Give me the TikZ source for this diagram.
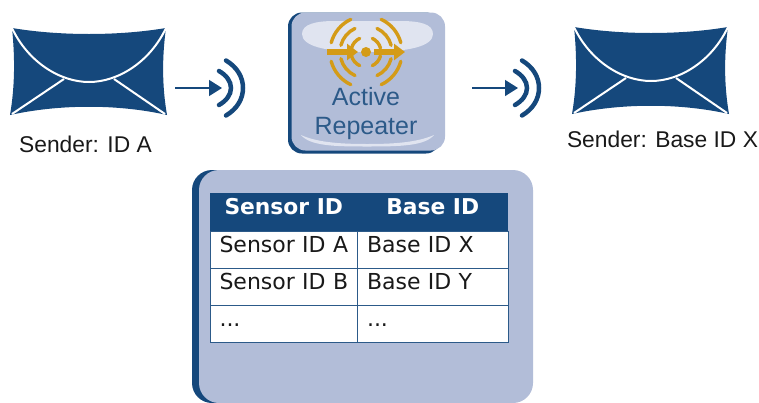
\documentclass[tikz,border=0pt]{standalone}
\usepackage{fontspec}
\setmainfont{Liberation Sans}
\newfontfamily\tablefont{DejaVu Sans}
\definecolor{mynavy}{RGB}{21,72,124}
\definecolor{mypanel}{RGB}{178,189,216}
\definecolor{myglow}{RGB}{224,228,240}
\definecolor{mygold}{RGB}{212,155,23}
\usetikzlibrary{positioning,arrows.meta}

\begin{document}
\begin{tikzpicture}[
  x=1pt,
  y=-1pt,
  caption/.style={text=black!90, font=\fontsize{22.8}{27}\selectfont, inner sep=0pt},
  repeatertext/.style={text=mynavy!90!white, font=\fontsize{25}{30}\selectfont, inner sep=0pt},
  sigarrow/.style={draw=mynavy, line width=1.5pt, -{Triangle[length=13pt,width=16pt]}},
  sigwave/.style={draw=mynavy, line width=4.5pt, line cap=round},
  goldarc/.style={draw=mygold, line width=3.4pt, line cap=round},
  goldarrow/.style={draw=mygold, line width=5.5pt, -{Triangle[length=11pt,width=16pt]}},
  headcell/.style={
    fill=mynavy,
    text=white,
    minimum width=#1,
    minimum height=38pt,
    text height=15pt,
    text depth=11pt,
    inner sep=0pt,
    outer sep=0pt,
    font=\tablefont\bfseries\fontsize{21.8}{26}\selectfont
    },
  bodycell/.style={
    draw=mynavy!90!white,
    fill=white,
    line width=0.9pt,
    text=black!90,
    text width=#1-12pt,
    minimum height=37pt,
    text height=14pt,
    text depth=9pt,
    inner xsep=6pt,
    inner ysep=0pt,
    outer sep=0pt,
    align=left,
    execute at begin node={\hspace*{3.5pt}},
    font=\tablefont\fontsize{22}{26}\selectfont
    },
  envelope/.pic={
    \fill[mynavy] (12,28) .. controls (60,36) and (118,36) .. (166,28)
      .. controls (162,57) and (162,86) .. (167,115)
      .. controls (118,104) and (60,104) .. (10,115)
      .. controls (15,86) and (15,57) .. (12,28) -- cycle;
    \draw[white, line width=2pt] (12,28) .. controls (28,62) and (60,82) .. (89,82)
      .. controls (118,82) and (150,62) .. (166,28);
    \draw[white, line width=2pt] (64,79) -- (12,114);
    \draw[white, line width=2pt] (114,79) -- (165,114);
  },
  wave/.pic={
    \draw[sigwave] (-3,-17) .. controls (4,-13) and (9,-7) .. (9,0)
      .. controls (9,7) and (4,13) .. (-3,17);
    \draw[sigwave] (4,-27.5) .. controls (15,-21) and (21,-11) .. (21,0)
      .. controls (21,11) and (15,21) .. (4,27.5);
  }
]
\useasboundingbox (0,0) rectangle (759,402);

% senders
\pic at (0,0) {envelope};
\pic at (562,-1) {envelope};
\node[caption] (senderA) at (85.5,144) {Sender: ID A};
\node[caption] (senderX) at (662.5,139) {Sender: Base ID X};

% signals
\coordinate (outA) at (175,88);
\coordinate (tipA) at (222,88);
\coordinate (outX) at (472,88);
\coordinate (tipX) at (518,88);
\draw[sigarrow] (outA) -- (tipA);
\draw[sigarrow] (outX) -- (tipX);
\pic at (tipA) {wave};
\pic at (tipX) {wave};

% repeater
\fill[mynavy, rounded corners=14pt] (288,12.5) rectangle (440,153.5);
\fill[mypanel, rounded corners=14pt] (291.5,12.5) rectangle (445,150.5);
\fill[myglow] (302,34) .. controls (302,24) and (316,21) .. (335,21)
  -- (400,21) .. controls (420,21) and (433,24) .. (433,34)
  .. controls (433,46) and (410,52) .. (367,52)
  .. controls (325,52) and (302,46) .. (302,34) -- cycle;
\fill[myglow] (301,135) .. controls (318,143) and (345,144) .. (367,144)
  .. controls (390,144) and (416,143) .. (434,135)
  .. controls (425,146) and (400,146.5) .. (367,146.5)
  .. controls (335,146.5) and (310,146) .. (301,135) -- cycle;

% repeater icon
\coordinate (hub) at (366,52);
\foreach \Radius in {15,26,36}
  \foreach \Start in {115,-65}{
    \draw[goldarc] (hub) ++(\Start:\Radius) arc[start angle=\Start, delta angle=50, radius=\Radius];
    \draw[goldarc] (hub) ++(180-\Start:\Radius) arc[start angle=180-\Start, delta angle=-50, radius=\Radius];
  }
\fill[mygold] (hub) circle (5);
\coordinate (inL) at (327,52);
\coordinate (inR) at (358,52);
\coordinate (exL) at (374,52);
\coordinate (exR) at (405,52);
\draw[goldarrow] (inL) -- (inR);
\draw[goldarrow] (exL) -- (exR);
\node[repeatertext] (active) at (366,97) {Active};
\node[repeatertext, below=11pt of active] (repeater) {Repeater};

% routing table
\fill[mynavy, rounded corners=20pt] (192,170) rectangle (525,403);
\fill[mypanel, rounded corners=20pt] (199,170) rectangle (533,403);
\node[headcell=147.5pt] (hdsensor) at (283.75,212) {Sensor ID};
\node[headcell=150.5pt, right=0pt of hdsensor] (hdbase) {Base ID};
\node[bodycell=147.5pt, below=0pt of hdsensor] (sensorA) {Sensor ID A};
\node[bodycell=150.5pt, below=0pt of hdbase] (baseX) {Base ID X};
\node[bodycell=147.5pt, below=0pt of sensorA] (sensorB) {Sensor ID B};
\node[bodycell=150.5pt, below=0pt of baseX] (baseY) {Base ID Y};
\node[bodycell=147.5pt, below=0pt of sensorB] (sensorN) {...};
\node[bodycell=150.5pt, below=0pt of baseY] (baseN) {...};
\end{tikzpicture}
\end{document}
